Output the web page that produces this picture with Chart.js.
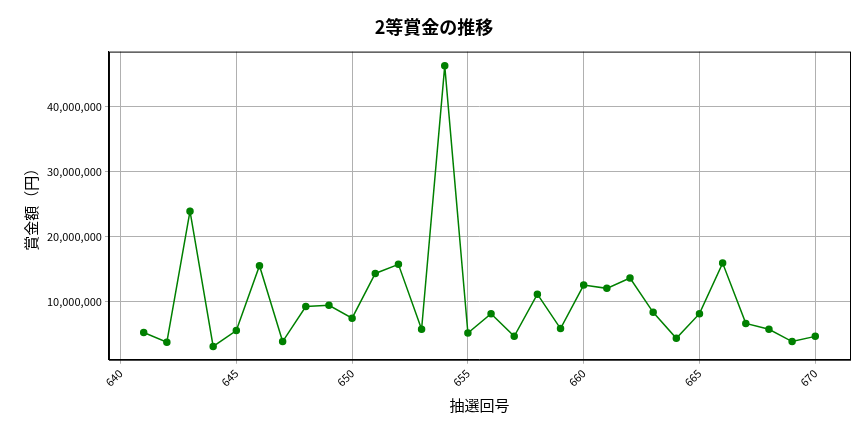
<!DOCTYPE html>
<html>
<head>
<meta charset="utf-8">
<script src="https://cdn.jsdelivr.net/npm/chart.js@4"></script>
<style>
  body { margin: 0; background: #fff; }
  #wrap { width: 864px; height: 432px; }
</style>
</head>
<body>
<div id="wrap"><canvas id="c" width="864" height="432"></canvas></div>
<script>
// draw numbers and 2nd prize amounts
const draws = [641,642,643,644,645,646,647,648,649,650,651,652,653,654,655,656,657,658,659,660,661,662,663,664,665,666,667,668,669,670];
const prizes = [5200000,3700000,23900000,3050000,5500000,15500000,3800000,9200000,9400000,7400000,14300000,15700000,5700000,46300000,5100000,8100000,4600000,11100000,5800000,12500000,12000000,13600000,8300000,4300000,8100000,15900000,6600000,5700000,3800000,4600000];

const font = "'Noto Sans CJK JP', 'Noto Sans', sans-serif";
Chart.defaults.font.family = font;
Chart.defaults.color = '#000';

// box around the plot area
const frame = {
  id: 'frame',
  afterDraw(chart) {
    const a = chart.chartArea, ctx = chart.ctx;
    ctx.save();
    ctx.strokeStyle = '#000';
    ctx.lineWidth = 1;
    ctx.strokeRect(a.left + 0.5, a.top + 0.5, a.right - a.left, a.bottom - a.top);
    ctx.restore();
  }
};

new Chart(document.getElementById('c'), {
  type: 'line',
  data: {
    datasets: [{
      data: draws.map((d, i) => ({ x: d, y: prizes[i] })),
      borderColor: 'green',
      backgroundColor: 'green',
      borderWidth: 1.5,
      pointRadius: 3,
      pointHoverRadius: 3,
      tension: 0
    }]
  },
  options: {
    responsive: false,
    animation: false,
    layout: { padding: { left: 18, right: 14, top: 10, bottom: 14 } },
    plugins: {
      legend: { display: false },
      title: { display: true, text: '2等賞金の推移', font: { size: 18, weight: 'bold' }, padding: { top: 6, bottom: 14 } }
    },
    scales: {
      x: {
        type: 'linear', min: 639.5, max: 671.5,
        afterBuildTicks: s => { s.ticks = [640,645,650,655,660,665,670].map(v => ({ value: v })); },
        ticks: { maxRotation: 45, minRotation: 45, font: { size: 11 } },
        grid: { color: '#b0b0b0', tickLength: 4 },
        border: { color: '#000' },
        title: { display: true, text: '抽選回号', font: { size: 15 } }
      },
      y: {
        min: 1000000, max: 48500000,
        afterBuildTicks: s => { s.ticks = [10000000,20000000,30000000,40000000].map(v => ({ value: v })); },
        ticks: { font: { size: 11 }, callback: v => v.toLocaleString('en-US') },
        grid: { color: '#b0b0b0', tickLength: 4 },
        border: { color: '#000' },
        title: { display: true, text: '賞金額（円）', font: { size: 15 } }
      }
    }
  },
  plugins: [frame]
});
</script>
</body>
</html>
